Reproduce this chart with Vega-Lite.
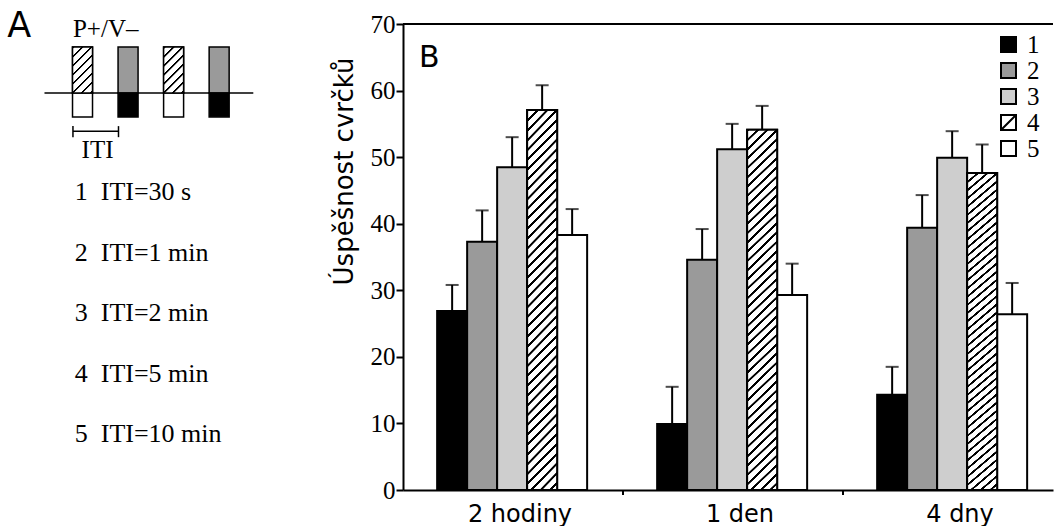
{
  "$schema": "https://vega.github.io/schema/vega-lite/v6.json",
  "background": "white",
  "padding": {"left": 0, "top": 8, "right": 0, "bottom": 0},
  "bounds": "flush",
  "spacing": 0,
  "config": {"view": {"stroke": null}},
  "hconcat": [
    {
      "width": 403,
      "height": 466,
      "layer": [
        {
          "layer": [
            {
              "data": {"values": [{}]},
              "mark": {"type": "rule", "color": "black", "strokeWidth": 1.5},
              "encoding": {
                "x": {"datum": -0.835, "type": "quantitative", "scale": {"domain": [-1.702, 6.927], "nice": false, "zero": false}, "axis": null},
                "x2": {"datum": 3.75},
                "y": {"datum": 0, "type": "quantitative", "scale": {"domain": [-8.63, 1.5], "nice": false, "zero": false}, "axis": null}
              }
            },
            {
              "data": {"values": [
                {"t": 0, "low": 0, "high": 1, "kind": "hatch"},
                {"t": 0, "low": -0.52, "high": 0, "kind": "white"},
                {"t": 1, "low": 0, "high": 1, "kind": "gray"},
                {"t": 1, "low": -0.52, "high": 0, "kind": "black"},
                {"t": 2, "low": 0, "high": 1, "kind": "hatch"},
                {"t": 2, "low": -0.52, "high": 0, "kind": "white"},
                {"t": 3, "low": 0, "high": 1, "kind": "gray"},
                {"t": 3, "low": -0.52, "high": 0, "kind": "black"}
              ]},
              "layer": [
                {
                  "mark": {"type": "bar", "size": 20, "stroke": "black", "strokeWidth": 1.5},
                  "encoding": {
                    "x": {"field": "t", "type": "quantitative"},
                    "y": {"field": "high", "type": "quantitative"},
                    "y2": {"field": "low"},
                    "fill": {
                      "condition": [
                        {"test": "datum.kind === 'gray'", "value": "#9a9a9a"},
                        {"test": "datum.kind === 'black'", "value": "#000000"}
                      ],
                      "value": "#ffffff"
                    }
                  }
                },
                {
                  "transform": [{"filter": "datum.kind === 'hatch'"}],
                  "mark": {"type": "bar", "size": 20, "stroke": "black", "strokeWidth": 1.5,
                    "fill": {"gradient": "linear", "x1": 0, "y1": 0, "x2": 0.572, "y2": 1.316, "stops": [
                      {"offset": 0, "color": "#000"}, {"offset": 0.03, "color": "#000"}, {"offset": 0.035, "color": "#fff"}, {"offset": 0.12, "color": "#fff"},
                      {"offset": 0.125, "color": "#000"}, {"offset": 0.155, "color": "#000"}, {"offset": 0.16, "color": "#fff"}, {"offset": 0.245, "color": "#fff"},
                      {"offset": 0.25, "color": "#000"}, {"offset": 0.28, "color": "#000"}, {"offset": 0.285, "color": "#fff"}, {"offset": 0.37, "color": "#fff"},
                      {"offset": 0.375, "color": "#000"}, {"offset": 0.405, "color": "#000"}, {"offset": 0.41, "color": "#fff"}, {"offset": 0.495, "color": "#fff"},
                      {"offset": 0.5, "color": "#000"}, {"offset": 0.53, "color": "#000"}, {"offset": 0.535, "color": "#fff"}, {"offset": 0.62, "color": "#fff"},
                      {"offset": 0.625, "color": "#000"}, {"offset": 0.655, "color": "#000"}, {"offset": 0.66, "color": "#fff"}, {"offset": 0.745, "color": "#fff"},
                      {"offset": 0.75, "color": "#000"}, {"offset": 0.78, "color": "#000"}, {"offset": 0.785, "color": "#fff"}, {"offset": 0.87, "color": "#fff"},
                      {"offset": 0.875, "color": "#000"}, {"offset": 0.905, "color": "#000"}, {"offset": 0.91, "color": "#fff"}, {"offset": 1, "color": "#fff"}
                    ]}},
                  "encoding": {
                    "x": {"field": "t", "type": "quantitative"},
                    "y": {"field": "high", "type": "quantitative"},
                    "y2": {"field": "low"}
                  }
                }
              ]
            },
            {
              "data": {"values": [{}]},
              "mark": {"type": "rule", "color": "black", "strokeWidth": 1.5},
              "encoding": {
                "x": {"datum": -0.21, "type": "quantitative"},
                "x2": {"datum": 0.79},
                "y": {"datum": -0.83, "type": "quantitative"}
              }
            },
            {
              "data": {"values": [{"edge": -0.21}, {"edge": 0.79}]},
              "mark": {"type": "rule", "color": "black", "strokeWidth": 1.5},
              "encoding": {
                "x": {"field": "edge", "type": "quantitative"},
                "y": {"datum": -0.72, "type": "quantitative"},
                "y2": {"datum": -0.96}
              }
            },
            {
              "data": {"values": [{}]},
              "mark": {"type": "text", "text": "A", "font": "DejaVu Sans", "fontSize": 35, "align": "left", "baseline": "alphabetic", "color": "black"},
              "encoding": {"x": {"datum": -1.65, "type": "quantitative"}, "y": {"datum": 1.22, "type": "quantitative"}}
            },
            {
              "data": {"values": [{}]},
              "mark": {"type": "text", "text": "P+/V–", "font": "Liberation Serif", "fontSize": 25, "align": "left", "baseline": "alphabetic", "color": "black"},
              "encoding": {"x": {"datum": -0.21, "type": "quantitative"}, "y": {"datum": 1.217, "type": "quantitative"}}
            },
            {
              "data": {"values": [{}]},
              "mark": {"type": "text", "text": "ITI", "font": "Liberation Serif", "fontSize": 25, "align": "center", "baseline": "alphabetic", "color": "black"},
              "encoding": {"x": {"datum": 0.33, "type": "quantitative"}, "y": {"datum": -1.413, "type": "quantitative"}}
            }
          ]
        },
        {
          "data": {"values": [
            {"row": 1, "num": "1", "label": "ITI=30 s"},
            {"row": 2, "num": "2", "label": "ITI=1 min"},
            {"row": 3, "num": "3", "label": "ITI=2 min"},
            {"row": 4, "num": "4", "label": "ITI=5 min"},
            {"row": 5, "num": "5", "label": "ITI=10 min"}
          ]},
          "layer": [
            {
              "mark": {"type": "text", "font": "Liberation Serif", "fontSize": 26, "align": "left", "baseline": "alphabetic", "color": "black"},
              "encoding": {
                "x": {"datum": -0.17, "type": "quantitative"},
                "y": {"field": "row", "type": "quantitative", "scale": {"domain": [-1.91, 5.79], "reverse": true, "nice": false, "zero": false}, "axis": null},
                "text": {"field": "num"}
              }
            },
            {
              "mark": {"type": "text", "font": "Liberation Serif", "fontSize": 26, "align": "left", "baseline": "alphabetic", "color": "black"},
              "encoding": {
                "x": {"datum": 0.4, "type": "quantitative"},
                "y": {"field": "row", "type": "quantitative"},
                "text": {"field": "label"}
              }
            }
          ]
        }
      ],
      "resolve": {"scale": {"y": "independent"}}
    },
    {
      "width": 650,
      "height": 466,
      "data": {"values": [
        {"time": "2 hodiny", "iti": "1", "mean": 26.9, "upper": 30.8},
        {"time": "2 hodiny", "iti": "2", "mean": 37.3, "upper": 42.0},
        {"time": "2 hodiny", "iti": "3", "mean": 48.5, "upper": 53.0},
        {"time": "2 hodiny", "iti": "4", "mean": 57.1, "upper": 60.8},
        {"time": "2 hodiny", "iti": "5", "mean": 38.3, "upper": 42.2},
        {"time": "1 den", "iti": "1", "mean": 9.9, "upper": 15.5},
        {"time": "1 den", "iti": "2", "mean": 34.6, "upper": 39.2},
        {"time": "1 den", "iti": "3", "mean": 51.2, "upper": 55.0},
        {"time": "1 den", "iti": "4", "mean": 54.1, "upper": 57.7},
        {"time": "1 den", "iti": "5", "mean": 29.3, "upper": 34.0},
        {"time": "4 dny", "iti": "1", "mean": 14.3, "upper": 18.5},
        {"time": "4 dny", "iti": "2", "mean": 39.4, "upper": 44.3},
        {"time": "4 dny", "iti": "3", "mean": 49.9, "upper": 53.9},
        {"time": "4 dny", "iti": "4", "mean": 47.6, "upper": 51.9},
        {"time": "4 dny", "iti": "5", "mean": 26.4, "upper": 31.1}
      ]},
      "layer": [
        {
          "mark": {"type": "rule", "color": "black", "strokeWidth": 2},
          "encoding": {
            "x": {"field": "time", "type": "nominal"},
            "xOffset": {"field": "iti", "type": "nominal"},
            "y": {"field": "mean", "type": "quantitative"},
            "y2": {"field": "upper"}
          }
        },
        {
          "mark": {"type": "bar", "stroke": "black", "strokeWidth": 2},
          "encoding": {
            "x": {
              "field": "time", "type": "nominal",
              "scale": {"domain": ["2 hodiny", "1 den", "4 dny"], "paddingInner": 0.0455, "paddingOuter": 0},
              "axis": {
                "title": null, "ticks": false, "labelOffset": 12, "labelAngle": 0, "labelAlign": "center",
                "labelFont": "DejaVu Sans", "labelFontSize": 24, "labelColor": "black",
                "labelBaseline": "alphabetic", "labelPadding": 31,
                "domainColor": "black", "domainWidth": 2
              }
            },
            "xOffset": {
              "field": "iti", "type": "nominal",
              "scale": {"domain": ["1", "2", "3", "4", "5"], "paddingInner": 0, "paddingOuter": 1.1207, "align": 0.569}
            },
            "y": {
              "field": "mean", "type": "quantitative",
              "scale": {"domain": [0, 70], "nice": false},
              "axis": {
                "values": [0, 5, 10, 15, 20, 25, 30, 35, 40, 45, 50, 55, 60, 65, 70],
                "labelExpr": "datum.value % 10 === 0 ? datum.label : ''",
                "tickSize": {"condition": {"test": "datum.value % 10 !== 0", "value": 3}, "value": 7},
                "tickWidth": 2, "tickColor": "black",
                "domainColor": "black", "domainWidth": 2,
                "grid": false,
                "labelFont": "Liberation Serif", "labelFontSize": 25, "labelColor": "black", "labelPadding": 1,
                "title": "Úspěšnost cvrčků",
                "titleFont": "DejaVu Sans", "titleFontSize": 26, "titleFontWeight": "normal", "titleColor": "black",
                "titleX": -51, "titleY": 147, "titleBaseline": "alphabetic", "titleAngle": 270
              }
            },
            "fill": {
              "field": "iti", "type": "nominal",
              "scale": {
                "domain": ["1", "2", "3", "4", "5"],
                "range": ["#000000", "#9a9a9a", "#cecece", "#ffffff", "#ffffff"]
              },
              "legend": {
                "orient": "none", "legendX": 996, "legendY": 8, "title": null, "padding": 0,
                "symbolType": "square", "symbolSize": 225, "symbolStrokeColor": "black", "symbolStrokeWidth": 2,
                "labelFont": "Liberation Serif", "labelFontSize": 25, "labelColor": "black", "labelOffset": 6, "rowPadding": 0,
                "encode": {"symbols": {"update": {
                  "shape": {"signal": "datum.value === '4' ? 'M-1,-1H1V1H-1Z M-1,1L1,-1' : 'square'"}
                }}}
              }
            }
          }
        },
        {
          "transform": [{"filter": "datum.iti === '4'"}],
          "mark": {"type": "bar", "stroke": "black", "strokeWidth": 2,
            "fill": {"gradient": "linear", "x1": 0, "y1": 0, "x2": 0.1034, "y2": 1.283, "stops": [
              {"offset": 0, "color": "#000"}, {"offset": 0.005, "color": "#000"}, {"offset": 0.006, "color": "#fff"}, {"offset": 0.019, "color": "#fff"},
              {"offset": 0.02, "color": "#000"}, {"offset": 0.025, "color": "#000"}, {"offset": 0.026, "color": "#fff"}, {"offset": 0.039, "color": "#fff"},
              {"offset": 0.04, "color": "#000"}, {"offset": 0.045, "color": "#000"}, {"offset": 0.046, "color": "#fff"}, {"offset": 0.059, "color": "#fff"},
              {"offset": 0.06, "color": "#000"}, {"offset": 0.065, "color": "#000"}, {"offset": 0.066, "color": "#fff"}, {"offset": 0.079, "color": "#fff"},
              {"offset": 0.08, "color": "#000"}, {"offset": 0.085, "color": "#000"}, {"offset": 0.086, "color": "#fff"}, {"offset": 0.099, "color": "#fff"},
              {"offset": 0.1, "color": "#000"}, {"offset": 0.105, "color": "#000"}, {"offset": 0.106, "color": "#fff"}, {"offset": 0.119, "color": "#fff"},
              {"offset": 0.12, "color": "#000"}, {"offset": 0.125, "color": "#000"}, {"offset": 0.126, "color": "#fff"}, {"offset": 0.139, "color": "#fff"},
              {"offset": 0.14, "color": "#000"}, {"offset": 0.145, "color": "#000"}, {"offset": 0.146, "color": "#fff"}, {"offset": 0.159, "color": "#fff"},
              {"offset": 0.16, "color": "#000"}, {"offset": 0.165, "color": "#000"}, {"offset": 0.166, "color": "#fff"}, {"offset": 0.179, "color": "#fff"},
              {"offset": 0.18, "color": "#000"}, {"offset": 0.185, "color": "#000"}, {"offset": 0.186, "color": "#fff"}, {"offset": 0.199, "color": "#fff"},
              {"offset": 0.2, "color": "#000"}, {"offset": 0.205, "color": "#000"}, {"offset": 0.206, "color": "#fff"}, {"offset": 0.219, "color": "#fff"},
              {"offset": 0.22, "color": "#000"}, {"offset": 0.225, "color": "#000"}, {"offset": 0.226, "color": "#fff"}, {"offset": 0.239, "color": "#fff"},
              {"offset": 0.24, "color": "#000"}, {"offset": 0.245, "color": "#000"}, {"offset": 0.246, "color": "#fff"}, {"offset": 0.259, "color": "#fff"},
              {"offset": 0.26, "color": "#000"}, {"offset": 0.265, "color": "#000"}, {"offset": 0.266, "color": "#fff"}, {"offset": 0.279, "color": "#fff"},
              {"offset": 0.28, "color": "#000"}, {"offset": 0.285, "color": "#000"}, {"offset": 0.286, "color": "#fff"}, {"offset": 0.299, "color": "#fff"},
              {"offset": 0.3, "color": "#000"}, {"offset": 0.305, "color": "#000"}, {"offset": 0.306, "color": "#fff"}, {"offset": 0.319, "color": "#fff"},
              {"offset": 0.32, "color": "#000"}, {"offset": 0.325, "color": "#000"}, {"offset": 0.326, "color": "#fff"}, {"offset": 0.339, "color": "#fff"},
              {"offset": 0.34, "color": "#000"}, {"offset": 0.345, "color": "#000"}, {"offset": 0.346, "color": "#fff"}, {"offset": 0.359, "color": "#fff"},
              {"offset": 0.36, "color": "#000"}, {"offset": 0.365, "color": "#000"}, {"offset": 0.366, "color": "#fff"}, {"offset": 0.379, "color": "#fff"},
              {"offset": 0.38, "color": "#000"}, {"offset": 0.385, "color": "#000"}, {"offset": 0.386, "color": "#fff"}, {"offset": 0.399, "color": "#fff"},
              {"offset": 0.4, "color": "#000"}, {"offset": 0.405, "color": "#000"}, {"offset": 0.406, "color": "#fff"}, {"offset": 0.419, "color": "#fff"},
              {"offset": 0.42, "color": "#000"}, {"offset": 0.425, "color": "#000"}, {"offset": 0.426, "color": "#fff"}, {"offset": 0.439, "color": "#fff"},
              {"offset": 0.44, "color": "#000"}, {"offset": 0.445, "color": "#000"}, {"offset": 0.446, "color": "#fff"}, {"offset": 0.459, "color": "#fff"},
              {"offset": 0.46, "color": "#000"}, {"offset": 0.465, "color": "#000"}, {"offset": 0.466, "color": "#fff"}, {"offset": 0.479, "color": "#fff"},
              {"offset": 0.48, "color": "#000"}, {"offset": 0.485, "color": "#000"}, {"offset": 0.486, "color": "#fff"}, {"offset": 0.499, "color": "#fff"},
              {"offset": 0.5, "color": "#000"}, {"offset": 0.505, "color": "#000"}, {"offset": 0.506, "color": "#fff"}, {"offset": 0.519, "color": "#fff"},
              {"offset": 0.52, "color": "#000"}, {"offset": 0.525, "color": "#000"}, {"offset": 0.526, "color": "#fff"}, {"offset": 0.539, "color": "#fff"},
              {"offset": 0.54, "color": "#000"}, {"offset": 0.545, "color": "#000"}, {"offset": 0.546, "color": "#fff"}, {"offset": 0.559, "color": "#fff"},
              {"offset": 0.56, "color": "#000"}, {"offset": 0.565, "color": "#000"}, {"offset": 0.566, "color": "#fff"}, {"offset": 0.579, "color": "#fff"},
              {"offset": 0.58, "color": "#000"}, {"offset": 0.585, "color": "#000"}, {"offset": 0.586, "color": "#fff"}, {"offset": 0.599, "color": "#fff"},
              {"offset": 0.6, "color": "#000"}, {"offset": 0.605, "color": "#000"}, {"offset": 0.606, "color": "#fff"}, {"offset": 0.619, "color": "#fff"},
              {"offset": 0.62, "color": "#000"}, {"offset": 0.625, "color": "#000"}, {"offset": 0.626, "color": "#fff"}, {"offset": 0.639, "color": "#fff"},
              {"offset": 0.64, "color": "#000"}, {"offset": 0.645, "color": "#000"}, {"offset": 0.646, "color": "#fff"}, {"offset": 0.659, "color": "#fff"},
              {"offset": 0.66, "color": "#000"}, {"offset": 0.665, "color": "#000"}, {"offset": 0.666, "color": "#fff"}, {"offset": 0.679, "color": "#fff"},
              {"offset": 0.68, "color": "#000"}, {"offset": 0.685, "color": "#000"}, {"offset": 0.686, "color": "#fff"}, {"offset": 0.699, "color": "#fff"},
              {"offset": 0.7, "color": "#000"}, {"offset": 0.705, "color": "#000"}, {"offset": 0.706, "color": "#fff"}, {"offset": 0.719, "color": "#fff"},
              {"offset": 0.72, "color": "#000"}, {"offset": 0.725, "color": "#000"}, {"offset": 0.726, "color": "#fff"}, {"offset": 0.739, "color": "#fff"},
              {"offset": 0.74, "color": "#000"}, {"offset": 0.745, "color": "#000"}, {"offset": 0.746, "color": "#fff"}, {"offset": 0.759, "color": "#fff"},
              {"offset": 0.76, "color": "#000"}, {"offset": 0.765, "color": "#000"}, {"offset": 0.766, "color": "#fff"}, {"offset": 0.779, "color": "#fff"},
              {"offset": 0.78, "color": "#000"}, {"offset": 0.785, "color": "#000"}, {"offset": 0.786, "color": "#fff"}, {"offset": 0.799, "color": "#fff"},
              {"offset": 0.8, "color": "#000"}, {"offset": 0.805, "color": "#000"}, {"offset": 0.806, "color": "#fff"}, {"offset": 0.819, "color": "#fff"},
              {"offset": 0.82, "color": "#000"}, {"offset": 0.825, "color": "#000"}, {"offset": 0.826, "color": "#fff"}, {"offset": 0.839, "color": "#fff"},
              {"offset": 0.84, "color": "#000"}, {"offset": 0.845, "color": "#000"}, {"offset": 0.846, "color": "#fff"}, {"offset": 1, "color": "#fff"}
            ]}},
          "encoding": {
            "x": {"field": "time", "type": "nominal"},
            "xOffset": {"field": "iti", "type": "nominal"},
            "y": {"field": "mean", "type": "quantitative"}
          }
        },
        {
          "mark": {"type": "tick", "color": "black", "thickness": 2, "size": 13},
          "encoding": {
            "x": {"field": "time", "type": "nominal"},
            "xOffset": {"field": "iti", "type": "nominal"},
            "y": {"field": "upper", "type": "quantitative"}
          }
        },
        {
          "data": {"values": [{}]},
          "mark": {"type": "rule", "color": "black", "strokeWidth": 2},
          "encoding": {"y": {"datum": 70, "type": "quantitative"}}
        },
        {
          "data": {"values": [{"time": "1 den"}, {"time": "4 dny"}]},
          "mark": {"type": "rule", "color": "black", "strokeWidth": 2},
          "encoding": {
            "x": {"field": "time", "type": "nominal", "bandPosition": 0},
            "y": {"datum": 0, "type": "quantitative"},
            "y2": {"datum": -0.75}
          }
        },
        {
          "data": {"values": [{}]},
          "mark": {"type": "text", "text": "B", "font": "DejaVu Sans", "fontSize": 30, "align": "left", "baseline": "alphabetic", "color": "black", "dx": 16},
          "encoding": {
            "x": {"datum": "2 hodiny", "type": "nominal", "bandPosition": 0},
            "y": {"datum": 63.6, "type": "quantitative"}
          }
        }
      ]
    }
  ]
}
